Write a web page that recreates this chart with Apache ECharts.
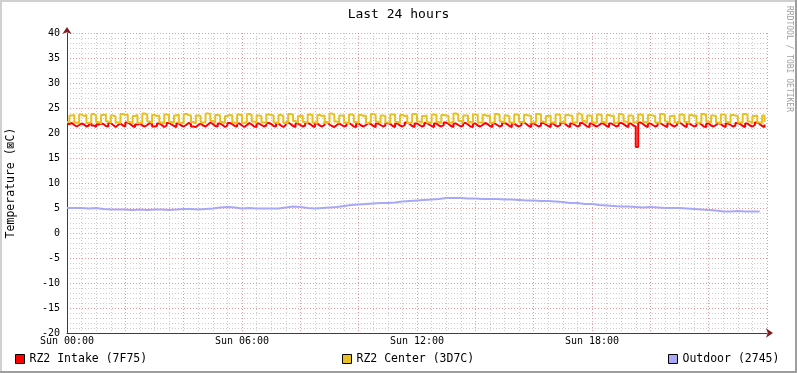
<!DOCTYPE html>
<html><head><meta charset="utf-8">
<script src="https://cdn.jsdelivr.net/npm/echarts@6/dist/echarts.min.js"></script>
<style>html,body{margin:0;padding:0;background:#fff}#c{width:797px;height:373px}</style>
</head><body><div id="c"></div>
<script>
const title = 'Last 24 hours';
const yAxisName = 'Temperature (⊠C)';
const watermark = 'RRDTOOL / TOBI OETIKER';
const seriesNames = ['RZ2 Intake (7F75)', 'RZ2 Center (3D7C)', 'Outdoor (2745)'];
const xTickLabels = {0: 'Sun 00:00', 360: 'Sun 06:00', 720: 'Sun 12:00', 1080: 'Sun 18:00'};
const stepMinutesFine = 5;
const stepMinutesOutdoor = 15;

const center = [
22.2,23.5,23.6,22.1,21.9,23.7,23.4,23.6,22.0,22.1,23.8,23.5,
22.2,21.9,23.6,23.7,22.3,22.0,23.5,23.3,22.1,22.0,23.8,23.6,
23.7,22.2,21.9,23.4,23.6,22.0,22.1,23.9,23.7,22.3,22.0,23.6,
23.4,23.5,22.1,21.9,23.7,23.6,22.2,22.0,23.5,23.7,22.0,22.1,
23.8,23.6,23.5,22.2,21.9,23.5,23.4,22.1,22.2,23.9,23.8,22.4,
22.0,23.6,23.5,22.2,22.0,23.4,23.6,23.5,22.1,21.9,23.7,23.5,
22.0,22.2,23.8,23.6,22.3,22.0,23.5,23.4,22.1,22.0,23.7,23.6,
23.5,22.1,21.9,23.6,23.4,22.0,22.2,23.8,23.7,22.4,22.0,23.4,
23.5,22.2,22.0,23.7,23.6,22.1,22.0,23.6,23.4,23.5,22.0,22.2,
23.9,23.6,22.3,22.0,23.5,23.5,22.1,21.9,23.7,23.6,22.2,22.0,
23.6,23.4,23.5,22.0,22.2,23.8,23.6,22.3,22.0,23.5,23.4,22.1,
22.0,23.7,23.7,22.2,22.1,23.6,23.4,23.5,22.0,22.2,23.8,23.7,
22.3,22.0,23.4,23.5,22.1,22.0,23.7,23.6,22.2,22.0,23.6,23.5,
23.4,22.1,22.2,23.9,23.7,22.4,22.0,23.5,23.5,22.2,22.0,23.7,
23.6,22.1,22.0,23.6,23.4,23.5,22.0,22.2,23.8,23.6,22.3,22.0,
23.5,23.4,22.1,21.9,23.7,23.6,22.2,22.0,23.6,23.5,23.4,22.1,
22.2,23.8,23.7,22.3,22.0,23.4,23.5,22.1,22.0,23.7,23.6,22.2,
22.0,23.6,23.5,23.4,22.1,22.2,23.9,23.6,22.4,22.0,23.5,23.4,
22.1,22.0,23.7,23.6,22.2,22.0,23.6,23.4,23.5,22.0,22.2,23.8,
23.6,22.3,22.0,23.5,23.4,22.1,22.3,23.7,23.6,22.2,22.0,23.6,
23.5,23.4,22.1,22.0,23.8,23.7,22.3,22.0,23.4,23.5,22.1,22.0,
23.7,23.6,22.2,22.0,23.6,23.4,23.5,22.0,22.2,23.8,23.6,22.3,
22.0,23.5,23.4,22.1,21.9,23.7,23.6,22.2,22.0,23.6,23.5,23.4,
22.1,22.2,23.8,23.7,22.3,22.0,23.4,23.5,22.1,22.0,23.5,22.2
];

const intake = [
21.8,22.0,21.6,21.3,21.6,21.9,21.7,21.3,21.5,22.0,21.5,21.2,
21.7,21.9,21.8,21.4,21.3,22.0,21.6,21.2,21.6,21.9,21.5,21.3,
22.1,21.8,21.4,21.2,21.7,21.9,21.5,21.3,21.6,22.0,21.8,21.3,
21.4,21.9,21.6,21.2,21.5,22.0,21.7,21.4,21.2,21.9,21.5,21.3,
21.6,22.0,21.8,21.3,21.2,21.6,21.9,21.5,21.3,21.7,22.1,21.8,
21.4,21.3,21.9,21.6,21.2,21.5,22.0,21.8,21.4,21.3,21.9,21.5,
21.2,21.6,22.0,21.7,21.3,21.2,21.9,21.6,21.3,21.5,22.0,21.8,
21.4,21.3,21.9,21.5,21.2,21.6,22.1,21.8,21.4,21.2,21.9,21.6,
21.3,21.5,22.0,21.8,21.4,21.2,21.9,21.5,21.3,21.6,22.1,21.7,
21.4,21.2,21.6,21.9,21.6,21.3,21.5,22.0,21.7,21.3,21.2,21.9,
21.5,21.3,21.6,22.0,21.8,21.4,21.2,21.9,21.6,21.3,21.5,22.0,
21.8,21.4,21.2,21.9,21.5,21.3,21.6,22.1,21.8,21.4,21.2,21.9,
21.6,21.3,21.5,22.0,21.7,21.4,21.2,21.9,21.5,21.3,21.6,22.1,
21.8,21.4,21.2,21.9,21.6,21.3,21.5,22.0,21.7,21.3,21.2,21.9,
21.5,21.3,21.6,22.0,21.8,21.4,21.2,21.9,21.6,21.3,21.5,22.0,
21.8,21.4,21.2,21.9,21.5,21.3,21.6,22.1,21.8,21.4,21.2,21.9,
21.6,21.3,21.5,22.0,21.7,21.4,21.2,21.9,21.5,21.3,21.6,22.1,
21.8,21.4,21.2,21.9,21.6,21.3,21.5,22.0,21.7,21.3,21.2,21.9,
21.5,21.3,21.6,22.0,21.8,21.4,21.2,21.9,21.6,21.3,21.5,22.0,
21.8,21.4,21.2,21.9,21.5,21.3,17.2,22.1,21.8,21.4,21.2,21.9,
21.6,21.3,21.5,22.0,21.7,21.4,21.2,21.9,21.5,21.3,21.6,22.1,
21.8,21.4,21.2,21.9,21.6,21.3,21.5,22.0,21.7,21.3,21.2,21.9,
21.5,21.3,21.6,22.0,21.8,21.4,21.2,21.9,21.6,21.3,21.5,22.0,
21.8,21.4,21.2,21.9,21.5,21.3,21.6,22.1,21.8,21.4,21.2,21.7
];

const outdoor = [
5.0,5.0,4.9,5.0,4.8,4.7,4.7,4.7,4.6,4.7,4.6,4.7,
4.7,4.6,4.7,4.8,4.8,4.7,4.8,4.9,5.1,5.2,5.1,4.9,
5.0,4.9,4.9,4.9,4.9,5.1,5.3,5.2,5.0,4.9,5.0,5.1,
5.2,5.4,5.6,5.7,5.8,5.9,6.0,6.0,6.1,6.3,6.4,6.5,
6.6,6.7,6.8,7.0,7.0,7.0,6.9,6.9,6.8,6.8,6.8,6.7,
6.7,6.6,6.5,6.5,6.4,6.4,6.3,6.2,6.0,6.0,5.8,5.8,
5.6,5.5,5.4,5.3,5.3,5.2,5.1,5.2,5.1,5.0,5.0,5.0,
4.9,4.8,4.7,4.6,4.5,4.3,4.3,4.4,4.3,4.3,4.3,4.2
];

const FONT = 'DejaVu Sans Mono';
const colors = ['#FF0000', '#E8C020', '#A8A8F8'];
const toPairs = (arr, step) => arr.map((v, i) => [i * step, v]);

const chart = echarts.init(document.getElementById('c'), null, {renderer: 'canvas'});
const legendPos = [15, 342, 668];
chart.setOption({
  backgroundColor: '#ffffff',
  animation: false,
  title: {text: title, left: 'center', top: 3, textStyle: {fontFamily: FONT, fontSize: 13, fontWeight: 'normal', color: '#000'}},
  grid: {left: 67, right: 30, top: 33, bottom: 40, containLabel: false, outerBoundsMode: 'none'},
  legend: seriesNames.map((n, i) => ({
    data: [n], left: legendPos[i], top: 353, icon: 'rect', itemWidth: 9, itemHeight: 9,
    itemStyle: {borderColor: '#000', borderWidth: 1},
    textStyle: {fontFamily: FONT, fontSize: 11.5, color: '#000'}, selectedMode: false, padding: 0
  })),
  xAxis: {
    type: 'value', min: 0, max: 1440, interval: 120,
    axisLine: {show: true, onZero: false, lineStyle: {color: '#802020', width: 1}, symbol: ['none', 'arrow'], symbolSize: [7, 7], symbolOffset: [0, 6]},
    axisTick: {show: false},
    axisLabel: {fontFamily: FONT, fontSize: 10, color: '#000', margin: 3, showMaxLabel: false,
      formatter: v => xTickLabels[v] || ''},
    splitLine: {show: true, lineStyle: {color: 'rgba(225,120,120,0.75)', type: [1, 2], width: 1}},
    minorTick: {show: false, splitNumber: 4},
    minorSplitLine: {show: true, lineStyle: {color: 'rgba(190,190,190,0.8)', type: [1, 2], width: 1}}
  },
  yAxis: {
    type: 'value', min: -20, max: 40, interval: 5,
    name: yAxisName, nameLocation: 'middle', nameGap: 50, nameRotate: 90,
    nameTextStyle: {fontFamily: FONT, fontSize: 11.5, color: '#000'},
    axisLine: {show: true, onZero: false, lineStyle: {color: '#802020', width: 1}, symbol: ['none', 'arrow'], symbolSize: [7, 7], symbolOffset: [0, 6]},
    axisTick: {show: false},
    axisLabel: {fontFamily: FONT, fontSize: 10, color: '#000', margin: 7},
    splitLine: {show: true, lineStyle: {color: 'rgba(225,120,120,0.75)', type: [1, 2], width: 1}},
    minorTick: {show: false, splitNumber: 5},
    minorSplitLine: {show: true, lineStyle: {color: 'rgba(190,190,190,0.8)', type: [1, 2], width: 1}}
  },
  series: [
    {name: seriesNames[0], type: 'line', step: 'end', showSymbol: false, data: toPairs(intake, stepMinutesFine), color: colors[0], lineStyle: {width: 2, color: colors[0]}, z: 2},
    {name: seriesNames[1], type: 'line', step: 'end', showSymbol: false, data: toPairs(center, stepMinutesFine), color: colors[1], lineStyle: {width: 2, color: colors[1]}, z: 3},
    {name: seriesNames[2], type: 'line', step: 'end', showSymbol: false, data: toPairs(outdoor, stepMinutesOutdoor), color: colors[2], lineStyle: {width: 2, color: colors[2]}, z: 4}
  ],
  graphic: [
    {type: 'rect', shape: {x: 0, y: 0, width: 797, height: 2}, style: {fill: '#d0d0d0'}, silent: true},
    {type: 'rect', shape: {x: 0, y: 0, width: 2, height: 373}, style: {fill: '#d0d0d0'}, silent: true},
    {type: 'rect', shape: {x: 795, y: 0, width: 2, height: 373}, style: {fill: '#9e9e9e'}, silent: true},
    {type: 'rect', shape: {x: 0, y: 371, width: 797, height: 2}, style: {fill: '#9e9e9e'}, silent: true},
    {type: 'text', x: 793, y: 6, rotation: -Math.PI / 2,
      style: {text: watermark, fill: '#a0a0a0', font: '8px ' + FONT, textAlign: 'left', textVerticalAlign: 'top'}, silent: true}
  ]
});
</script></body></html>
